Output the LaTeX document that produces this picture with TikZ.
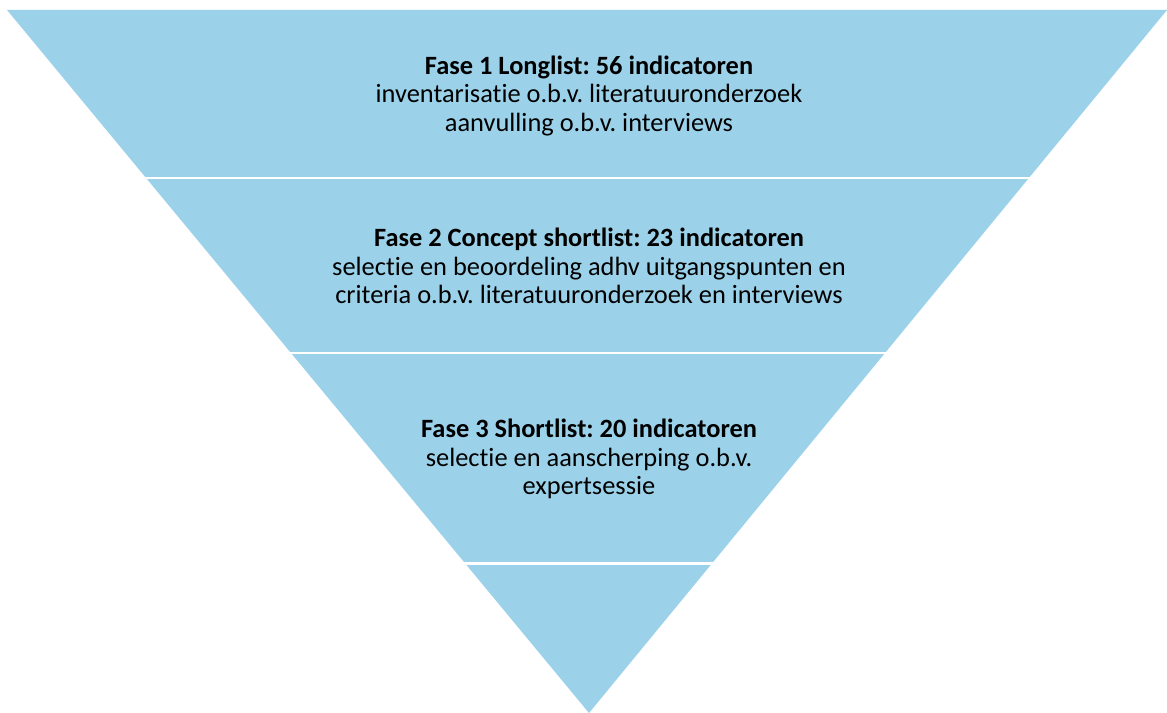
\documentclass[tikz,border=0pt]{standalone}
\usepackage{fontspec}
\setmainfont{Carlito}[Ligatures={NoCommon}]
\usetikzlibrary{calc}
\definecolor{funnelblue}{RGB}{155,210,234}
\tikzset{
  fasetext/.style={align=center, font=\frenchspacing\fontsize{19.8}{21.4}\selectfont, inner sep=0pt},
  split/.style={white, line width=2.2pt}
}
\begin{document}
\begin{tikzpicture}[x=0.75pt,y=-0.75pt]
			\useasboundingbox (0,0) rectangle (1167,713);
			
			% Corners of the funnel
			\coordinate (tl) at (7,10);
			\coordinate (tr) at (1167,10);
			\coordinate (ap) at (589,713);
			
			% Draw the inverted triangle
			\fill[funnelblue] (tl) -- (tr) -- (ap) -- cycle;
			
			% White lines between the phases
			\foreach \t in {0.2390, 0.4879, 0.7880}
			\draw[split] ($(tl)!\t!(ap)+(-3,0)$) -- ($(tr)!\t!(ap)+(3,0)$);
			
			% Label the phases
			\node[fasetext] (fase1) at (589,96)
			{\textbf{Fase 1 Longlist: 56 indicatoren}\\
				inventarisatie o.b.v. literatuuronderzoek\\
				aanvulling o.b.v. interviews};
			\node[fasetext] (fase2) at (589,266)
			{\textbf{Fase 2 Concept shortlist: 23 indicatoren}\\
				selectie en beoordeling adhv uitgangspunten en\\
				criteria o.b.v. literatuuronderzoek en interviews};
			\node[fasetext] (fase3) at (589,459)
			{\textbf{Fase 3 Shortlist: 20 indicatoren}\\
				selectie en aanscherping o.b.v.\\
				expertsessie};
			
		\end{tikzpicture}
\end{document}
